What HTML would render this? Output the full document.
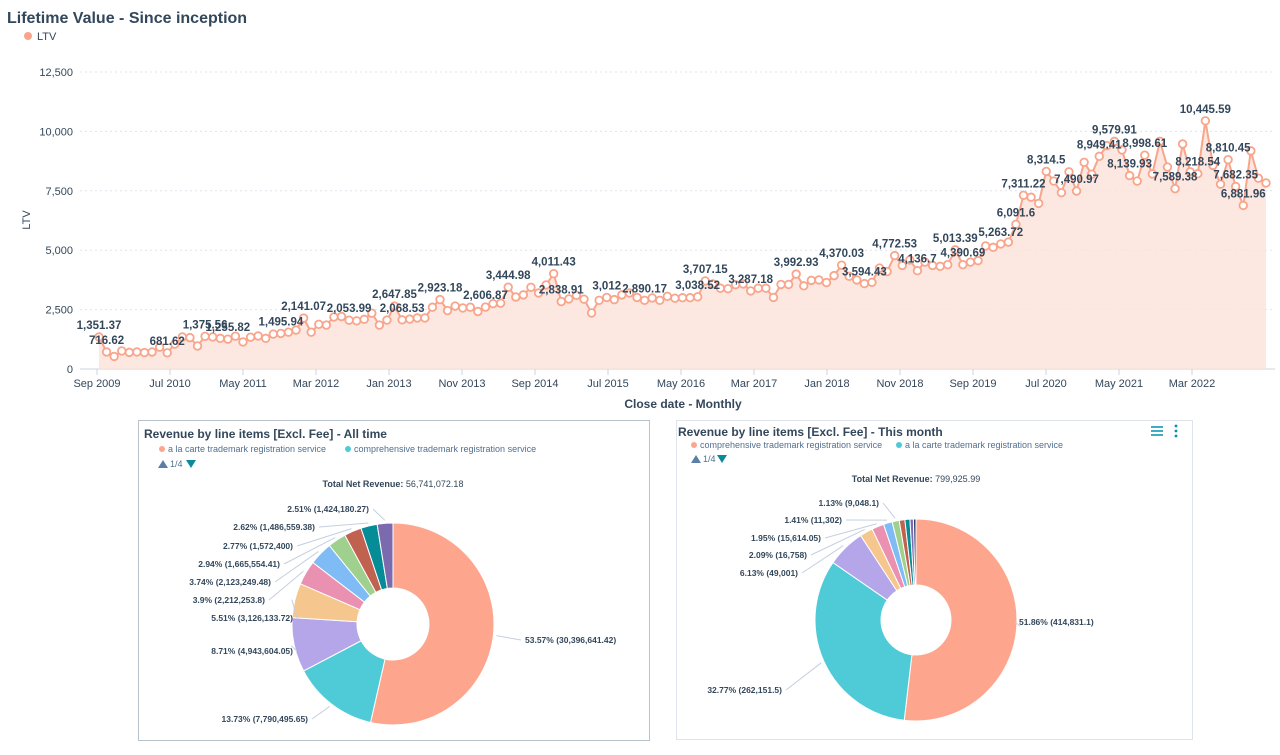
<!DOCTYPE html>
<html><head><meta charset="utf-8">
<style>
body{margin:0;background:#fff;width:1280px;height:750px;overflow:hidden;font-family:"Liberation Sans",sans-serif;}
svg text{font-family:"Liberation Sans",sans-serif;}
</style></head>
<body>
<svg id="root" width="1280" height="750" viewBox="0 0 1280 750">
  <text x="7" y="23" font-size="16" font-weight="bold" fill="#33475b">Lifetime Value - Since inception</text>
  <g>
    <circle cx="28" cy="36" r="4" fill="#f8a58b"/>
    <text x="37" y="40" font-size="11" fill="#33475b">LTV</text>
  </g>
  <g id="line-chart"></g>
  <text x="683" y="408" font-size="12" font-weight="bold" fill="#33475b" text-anchor="middle">Close date - Monthly</text>
  <text transform="translate(30,220) rotate(-90)" font-size="11" fill="#33475b" text-anchor="middle">LTV</text>

  <g>
    <rect x="138.5" y="420.5" width="511" height="320" fill="#fff" stroke="#b8c2cc"/>
    <text x="144" y="438" font-size="12" font-weight="bold" fill="#33475b">Revenue by line items [Excl. Fee] - All time</text>
    <circle cx="162" cy="449" r="3" fill="#fea58e"/>
    <text x="168" y="452" font-size="9" fill="#516f90">a la carte trademark registration service</text>
    <circle cx="348" cy="449" r="3" fill="#4fcbd7"/>
    <text x="354" y="452" font-size="9" fill="#516f90">comprehensive trademark registration service</text>
    <g>
      <polygon points="158,468 163,460 168,468" fill="#5b7fa6"/>
      <text x="170" y="467" font-size="9" fill="#516f90">1/4</text>
      <polygon points="186,460 196,460 191,468" fill="#0b8a9a"/>
    </g>
    <text x="393" y="487" font-size="9" fill="#33475b" text-anchor="middle"><tspan font-weight="bold">Total Net Revenue:</tspan> 56,741,072.18</text>
    <g id="pie1"></g>
  </g>
  <g>
    <rect x="676.5" y="420.5" width="516" height="319" fill="#fff" stroke="#dfe3eb"/>
    <text x="678" y="436" font-size="12" font-weight="bold" fill="#33475b">Revenue by line items [Excl. Fee] - This month</text>
    <circle cx="694" cy="445" r="3" fill="#fea58e"/>
    <text x="700" y="448" font-size="9" fill="#516f90">comprehensive trademark registration service</text>
    <circle cx="899" cy="445" r="3" fill="#4fcbd7"/>
    <text x="905" y="448" font-size="9" fill="#516f90">a la carte trademark registration service</text>
    <g>
      <polygon points="691,463 696,455 701,463" fill="#5b7fa6"/>
      <text x="703" y="462" font-size="9" fill="#516f90">1/4</text>
      <polygon points="717,455 727,455 722,463" fill="#0b8a9a"/>
    </g>
    <g stroke="#0091ae" stroke-width="1.5">
      <line x1="1151" y1="427" x2="1163" y2="427"/><line x1="1151" y1="431" x2="1163" y2="431"/><line x1="1151" y1="435" x2="1163" y2="435"/>
    </g>
    <g fill="#0091ae">
      <circle cx="1176" cy="426" r="1.4"/><circle cx="1176" cy="431" r="1.4"/><circle cx="1176" cy="436" r="1.4"/>
    </g>
    <text x="916" y="482" font-size="9" fill="#33475b" text-anchor="middle"><tspan font-weight="bold">Total Net Revenue:</tspan> 799,925.99</text>
    <g id="pie2"></g>
  </g>
</svg>
<script>
const ltvValues = [1351.37,716.62,530,760,700,720,690,715,920,681.62,1050,1350,1320,970,1375.56,1350,1290,1255.82,1380,1140,1340,1390,1290,1470,1495.94,1550,1640,2141.07,1550,1880,1850,2190,2210,2053.99,2030,2090,2350,1850,2060,2647.85,2068.53,2100,2150,2150,2600,2923.18,2460,2650,2570,2600,2420,2606.87,2750,2770,3444.98,3030,3120,3440,3200,3540,4011.43,2838.91,2950,3100,2940,2360,2890,3012,2920,3120,3200,3010,2890.17,2990,2890,3060,2980,3000,3000,3038.52,3707.15,3580,3400,3380,3550,3580,3287.18,3400,3400,3010,3560,3560,3992.93,3500,3730,3750,3640,3930,4370.03,3900,3750,3594.43,3650,4250,4100,4772.53,4360,4590,4136.7,4500,4360,4320,4390,5013.39,4390.69,4500,4560,5180,5120,5263.72,5340,6091.6,7311.22,7230,6970,8314.5,7910,7420,8300,7490.97,8700,8200,8949.41,9400,9579.91,9220,8139.93,7910,8998.61,8210,9580,8500,7589.38,9470,8300,8218.54,10445.59,8570,7780,8810.45,7682.35,6881.96,9180,8030,7830];
const labelIdx = [0,1,9,14,17,24,27,33,39,40,45,51,54,60,61,67,72,79,80,86,92,98,101,105,108,113,114,119,121,122,125,129,132,134,136,138,142,145,146,149,150,151];
const yTicks = [0,2500,5000,7500,10000,12500];
const xTickLabels = ["Sep 2009","Jul 2010","May 2011","Mar 2012","Jan 2013","Nov 2013","Sep 2014","Jul 2015","May 2016","Mar 2017","Jan 2018","Nov 2018","Sep 2019","Jul 2020","May 2021","Mar 2022"];

const pie1Pct = [53.57,13.73,8.71,5.51,3.9,3.74,2.94,2.77,2.62,2.51];
const pie1Labels = ["53.57% (30,396,641.42)","13.73% (7,790,495.65)","8.71% (4,943,604.05)","5.51% (3,126,133.72)","3.9% (2,212,253.8)","3.74% (2,123,249.48)","2.94% (1,665,554.41)","2.77% (1,572,400)","2.62% (1,486,559.38)","2.51% (1,424,180.27)"];
const pie2Pct = [51.86,32.77,6.13,2.09,1.95,1.41,1.13,0.9,0.8,0.55,0.41];
const pie2Labels = ["51.86% (414,831.1)","32.77% (262,151.5)","6.13% (49,001)","2.09% (16,758)","1.95% (15,614.05)","1.41% (11,302)","1.13% (9,048.1)","","","",""];
const pieColors = ["#fea58e","#4fcbd7","#b4a6e8","#f5c78e","#ea90b1","#7fbbf5","#9fd08e","#c0624f","#068c96","#7c6aaf","#2b3f78"];

const NS="http://www.w3.org/2000/svg";
function mk(tag,attrs,parent){const e=document.createElementNS(NS,tag);for(const k in attrs)e.setAttribute(k,attrs[k]);parent.appendChild(e);return e;}
function fmt(v){return v.toLocaleString('en-US',{maximumFractionDigits:2});}

const lc=document.getElementById('line-chart');
const X0=99,X1=1266,Y0=369,Y1=72,YMAX=12500;
const xs=i=>X0+i*(X1-X0)/(ltvValues.length-1);
const ys=v=>Y0-(v/YMAX)*(Y0-Y1);
yTicks.forEach(t=>{
  const g=mk('line',{x1:80,x2:1275,y1:ys(t),y2:ys(t),stroke:t===0?'#cbd6e2':'#dfe3eb','stroke-dasharray':t===0?'':'2,3'},lc);
  
  
  const tx=mk('text',{x:73,y:ys(t)+4,'font-size':11,fill:'#33475b','text-anchor':'end'},lc);
  tx.textContent=fmt(t);
  
  
});
xTickLabels.forEach((l,k)=>{
  const x=97+k*10*7.3;
  const t1=mk('line',{x1:x,x2:x,y1:369,y2:375,stroke:'#cbd6e2'},lc);
  
  
  const tx=mk('text',{x:x,y:387,'font-size':11,fill:'#33475b','text-anchor':'middle'},lc);
  tx.textContent=l;
  
  
});
let d='';ltvValues.forEach((v,i)=>{d+=(i?'L':'M')+xs(i).toFixed(1)+','+ys(v).toFixed(1);});
const area=mk('path',{d:d+'L'+xs(ltvValues.length-1)+','+Y0+'L'+X0+','+Y0+'Z',fill:'#fde2d9','fill-opacity':0.8},lc);


const line=mk('path',{d:d,fill:'none',stroke:'#f8a58b','stroke-width':2},lc);


ltvValues.forEach((v,i)=>{
  const c=mk('circle',{cx:xs(i),cy:ys(v),r:3.8,fill:'#fff',stroke:'#f8a58b','stroke-width':1.8},lc);
  
  
});
labelIdx.forEach(i=>{
  const v=ltvValues[i];
  const t=mk('text',{x:xs(i),y:ys(v)-8,'font-size':11.5,'font-weight':'bold',fill:'#33475b','text-anchor':'middle'},lc);
  t.textContent=fmt(v);
  
  
});

function pie(id,pcts,labels,cx,cy,R,r,labelPos){
  const g=document.getElementById(id);
  const tot=pcts.reduce((a,b)=>a+b,0);
  let a=-Math.PI/2;
  pcts.forEach((p,i)=>{
    const a2=a+p/tot*2*Math.PI;
    const large=(a2-a)>Math.PI?1:0;
    const pt=(rad,ang)=>[cx+rad*Math.cos(ang),cy+rad*Math.sin(ang)];
    const [x1,y1]=pt(R,a),[x2,y2]=pt(R,a2),[x3,y3]=pt(r,a2),[x4,y4]=pt(r,a);
    const s=mk('path',{d:`M${x1},${y1}A${R},${R} 0 ${large} 1 ${x2},${y2}L${x3},${y3}A${r},${r} 0 ${large} 0 ${x4},${y4}Z`,fill:pieColors[i],stroke:'#fff','stroke-width':1},g);
    
    
    const lp=labelPos[i];
    if(labels[i]&&lp){
      const m=(a+a2)/2;const [mx,my]=pt(R+3,m);
      const ln=mk('polyline',{points:`${mx},${my} ${lp[0]+(lp[2]==='end'?4:-4)},${lp[1]-3}`,fill:'none',stroke:'#c5cfe0','stroke-width':1},g);
      
      
      const t=mk('text',{x:lp[0],y:lp[1],'font-size':8.5,'font-weight':'bold',fill:'#33475b','text-anchor':lp[2]},g);
      t.textContent=labels[i];
      
      
    }
    a=a2;
  });
  mk('circle',{cx:cx,cy:cy,r:r,fill:'#fff'},g);
}
pie('pie1',pie1Pct,pie1Labels,393,624,101,36,[[525,643,'start'],[308,722,'end'],[293,654,'end'],[293,621,'end'],[265,603,'end'],[271,585,'end'],[280,567,'end'],[293,549,'end'],[315,530,'end'],[369,512,'end']]);
pie('pie2',pie2Pct,pie2Labels,916,620,101,35,[[1019,625,'start'],[782,693,'end'],[798,576,'end'],[807,558,'end'],[821,541,'end'],[842,523,'end'],[879,506,'end']]);
</script>
</body></html>
